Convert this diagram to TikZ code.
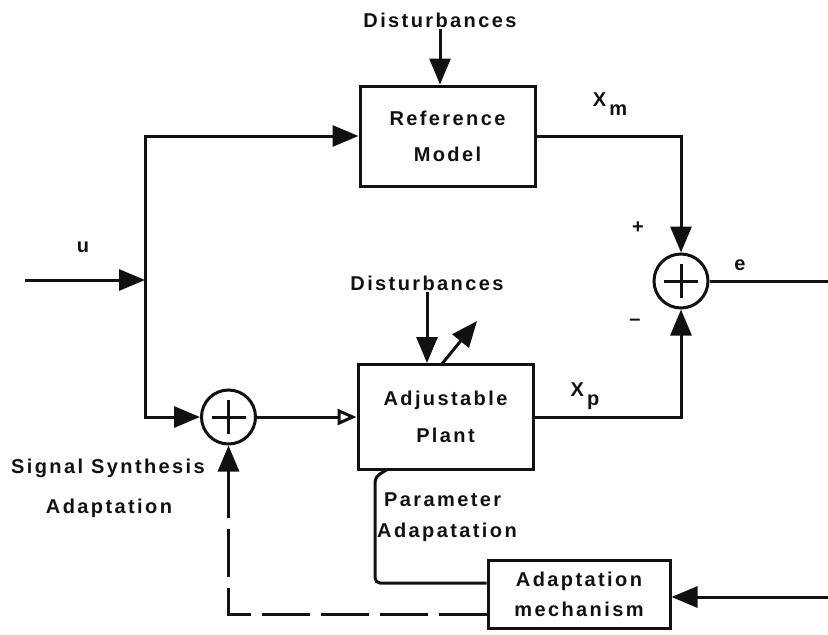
\documentclass[tikz,border=0pt]{standalone}
\usepackage{fontspec}
\newfontfamily\plotter{Liberation Sans}[LetterSpace=12]
\usepackage{tikz}
\usetikzlibrary{arrows.meta, positioning, calc}

\begin{document}
\begin{tikzpicture}[x=1pt, y=-1pt,
  linha/.style={line width=3pt, draw=traco},
  seta/.style={linha, -{Triangle[length=26pt, width=21pt]}},
  setaaberta/.style={linha, -{Triangle[open, length=19pt, width=16pt, fill=white]}},
  tracejado/.style={dash pattern=on 48pt off 11pt},
  texto/.style={font=\plotter\bfseries\fontsize{20}{24}\selectfont, text=traco, inner sep=1pt},
  bloco/.style={draw=traco, line width=3pt, align=center, inner sep=0pt, text=traco},
  soma/.style={circle, draw=traco, line width=3pt, minimum size=54pt, inner sep=0pt,
    path picture={\draw[line width=3pt, draw=traco]
      ($(path picture bounding box.center)+(-17,0)$) -- ($(path picture bounding box.center)+(17,0)$)
      ($(path picture bounding box.center)+(0,-17)$) -- ($(path picture bounding box.center)+(0,17)$);}}]
% --- DIAGRAMA MRAS: MODELO DE REFERENCIA E PLANTA AJUSTAVEL ---
\definecolor{traco}{HTML}{111111}
\useasboundingbox (0,0) rectangle (828,635);

% LAYER 1: Blocos
\node[bloco, minimum width=175pt, minimum height=100pt,
  font=\plotter\bfseries\fontsize{20}{36}\selectfont] (modelo) at (447.5,136) {Reference\\Model};
\node[bloco, minimum width=175pt, minimum height=105pt,
  font=\plotter\bfseries\fontsize{20}{37}\selectfont] (planta) at (445.5,417) {Adjustable\\Plant};
\node[bloco, minimum width=182pt, minimum height=68pt,
  font=\plotter\bfseries\fontsize{20}{30}\selectfont] (mecanismo) at (579,594) {Adaptation\\mechanism};

% LAYER 2: Somadores
\node[soma] (comparador) at (681,281) {};
\node[soma] (somador) at (228.5,417) {};

% LAYER 3: Textos
\node[texto] (disturbA) at (440,20) {Disturbances};
\node[texto] (disturbB) at (427,283) {Disturbances};
\node[texto] (rotuloU) at (83,247) {u};
\node[texto] (rotuloE) at (740,265) {e};
\node[texto] (rotuloXm) at (610,104) {X\,\raisebox{-0.45em}{m}};
\node[texto] (rotuloXp) at (585,396) {X\,\raisebox{-0.45em}{p}};
\node[texto] (mais) at (638,228) {+};
\node[texto] (menos) at (635,322) {\textendash};
\node[texto] (sinalA) at (108,468) {Signal Synthesis};
\node[texto] (sinalB) at (109,508) {Adaptation};
\node[texto, anchor=west] (paramA) at (383,500) {Parameter};
\node[texto, anchor=west] (paramB) at (376,532) {Adapatation};

% LAYER 4: Pontos livres
\coordinate (entradaU) at (25,280);
\coordinate (ramo) at (145,280);
\coordinate (saidaE) at (828,281);
\coordinate (entradaM) at (828,597);
\coordinate (ajusteA) at (441,365);
\coordinate (ajusteB) at (477,321);
\coordinate (pontaP) at (388,469);

% LAYER 5: Ligacoes
\draw[seta] (entradaU) -- (ramo);
\draw[seta] (ramo) |- (modelo.west);
\draw[seta] (ramo) |- (somador.west);
\draw[setaaberta] (somador.east) -- (planta.west);
\draw[seta] (disturbA.south) -- (disturbA.south |- modelo.north);
\draw[seta] (disturbB.south) -- (disturbB.south |- planta.north);
\draw[seta] (ajusteA) -- (ajusteB);
\draw[seta] (modelo.east) -| (comparador.north);
\draw[seta] (planta.east) -| (comparador.south);
\draw[linha] (comparador.east) -- (saidaE);
\draw[seta] (entradaM) -- (entradaM -| mecanismo.east);
\draw[linha, rounded corners=5pt] ([yshift=11pt]mecanismo.west) -| ($(pontaP)+(-13,8)$) -- (pontaP);
\draw[seta, tracejado] ([yshift=-20pt]mecanismo.west) -| (somador.south);
\end{tikzpicture}
\end{document}
